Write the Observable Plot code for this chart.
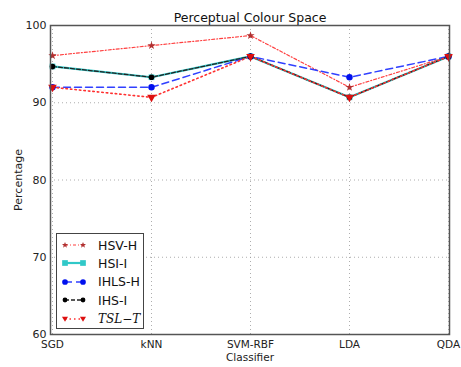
<!DOCTYPE html>
<html>
<head>
<meta charset="utf-8">
<script src="https://cdn.jsdelivr.net/npm/d3@7"></script>
<script src="https://cdn.jsdelivr.net/npm/@observablehq/plot@0.6"></script>
<style>
  html, body { margin: 0; padding: 0; background: #fff; }
  #wrap { position: relative; width: 461px; height: 367px; font-family: "DejaVu Sans", sans-serif; }
  #legend { position: absolute; left: 56px; top: 233px; width: 88px; height: 96px; border: 1.5px solid #444; background: #fff; box-sizing: border-box; }
  .row { position: absolute; left: 4px; height: 18px; display: flex; align-items: center; font-size: 12.5px; color: #111; }
  .row svg { margin-right: 11px; }
</style>
</head>
<body>
<div id="wrap"></div>
<script>
const classifiers = ["SGD", "kNN", "SVM-RBF", "LDA", "QDA"];
const hsvH  = [96.1, 97.4, 98.7, 92.0, 96.0];
const hsiI  = [94.7, 93.3, 96.0, 90.7, 96.0];
const ihlsH = [92.0, 92.0, 96.0, 93.3, 96.0];
const ihsI  = [94.7, 93.3, 96.0, 90.7, 96.0];
const tslT  = [92.0, 90.7, 96.0, 90.7, 96.0];
const yTicks = [60, 70, 80, 90, 100];

const seriesDefs = [
  {name: "HSV-H",  values: hsvH,  color: "#ff4040", dash: "3,2,1,2", width: 1.2, symbol: "star",     rotate: 0,   r: 2.6, fill: "#b03030"},
  {name: "HSI-I",  values: hsiI,  color: "#30c8c8", dash: null,      width: 2.2, symbol: "square",   rotate: 0,   r: 3.2, fill: "#30c8c8"},
  {name: "IHLS-H", values: ihlsH, color: "#3040ff", dash: "7,4",     width: 1.5, symbol: "circle",   rotate: 0,   r: 3.2, fill: "#0010ee"},
  {name: "IHS-I",  values: ihsI,  color: "#222",    dash: "4,2",     width: 1.3, symbol: "circle",   rotate: 0,   r: 2.8, fill: "#000"},
  {name: "TSL-T",  values: tslT,  color: "#ff3030", dash: "1.5,3",   width: 1.6, symbol: "triangle", rotate: 180, r: 3.2, fill: "#dd1010"}
];

const marks = [
  Plot.gridX(classifiers, {stroke: "#999", strokeOpacity: 1, strokeDasharray: "1,3", strokeWidth: 0.8}),
  Plot.gridY(yTicks, {stroke: "#999", strokeOpacity: 1, strokeDasharray: "1,3", strokeWidth: 0.8}),
  Plot.axisY(yTicks, {tickSize: 0, tickPadding: 4, fontSize: 11, fill: "#222", label: "Percentage", labelAnchor: "center", labelOffset: 36, labelArrow: "none"}),
  Plot.axisX(classifiers, {tickSize: 0, tickPadding: 6, fontSize: 10.5, fill: "#222", label: "Classifier", labelAnchor: "center", labelOffset: 26, labelArrow: "none"})
];
for (const s of seriesDefs) {
  const data = classifiers.map((c, i) => ({c, v: s.values[i]}));
  marks.push(Plot.line(data, {x: "c", y: "v", stroke: s.color, strokeWidth: s.width, strokeDasharray: s.dash || undefined}));
}
for (const s of seriesDefs) {
  const data = classifiers.map((c, i) => ({c, v: s.values[i]}));
  marks.push(Plot.dot(data, {x: "c", y: "v", symbol: s.symbol, r: s.r, fill: s.fill, stroke: "none", rotate: s.rotate}));
}
marks.push(Plot.frame({stroke: "#555", strokeWidth: 1.5}));
marks.push(Plot.text(["Perceptual Colour Space"], {frameAnchor: "top", dy: -12, fontSize: 12.5, fill: "#111"}));

const chart = Plot.plot({
  width: 461, height: 367,
  marginLeft: 50, marginRight: 12, marginTop: 25, marginBottom: 33,
  style: {fontFamily: "DejaVu Sans, sans-serif", background: "#fff", overflow: "visible"},
  x: {type: "point", domain: classifiers, padding: 0},
  y: {domain: [60, 100]},
  marks
});
const wrap = document.getElementById("wrap");
wrap.appendChild(chart);

// legend
const legend = document.createElement("div");
legend.id = "legend";
const symPath = {
  star: "M0,-4 L1.1,-1.3 L4,-1.2 L1.8,0.6 L2.5,3.5 L0,1.8 L-2.5,3.5 L-1.8,0.6 L-4,-1.2 L-1.1,-1.3Z",
  square: "M-3,-3 H3 V3 H-3Z",
  circle: "M3,0 A3,3 0 1,1 -3,0 A3,3 0 1,1 3,0Z",
  triangle: "M-3.2,-2.5 L3.2,-2.5 L0,3Z"
};
seriesDefs.forEach((s, i) => {
  const row = document.createElement("div");
  row.className = "row";
  row.style.top = (2 + i * 18.4) + "px";
  const svgNS = "http://www.w3.org/2000/svg";
  const svg = document.createElementNS(svgNS, "svg");
  svg.setAttribute("width", 26); svg.setAttribute("height", 10);
  const ln = document.createElementNS(svgNS, "line");
  ln.setAttribute("x1", 4); ln.setAttribute("x2", 22); ln.setAttribute("y1", 5); ln.setAttribute("y2", 5);
  ln.setAttribute("stroke", s.color); ln.setAttribute("stroke-width", s.width);
  if (s.dash) ln.setAttribute("stroke-dasharray", s.dash);
  svg.appendChild(ln);
  for (const x of [4, 22]) {
    const p = document.createElementNS(svgNS, "path");
    const scale = s.name === "IHS-I" ? 0.8 : (s.name === "HSV-H" ? 0.75 : 0.95);
    p.setAttribute("d", symPath[s.symbol]);
    p.setAttribute("transform", `translate(${x},5) scale(${scale})`);
    p.setAttribute("fill", s.fill);
    svg.appendChild(p);
  }
  row.appendChild(svg);
  const label = document.createElement("span");
  if (s.name === "TSL-T") {
    label.innerHTML = "TSL\u2212T";
    label.style.fontFamily = "'DejaVu Serif', serif";
    label.style.fontStyle = "italic";
    label.style.fontSize = "12px";
  } else {
    label.textContent = s.name;
  }
  row.appendChild(label);
  legend.appendChild(row);
});
wrap.appendChild(legend);
</script>
</body>
</html>
